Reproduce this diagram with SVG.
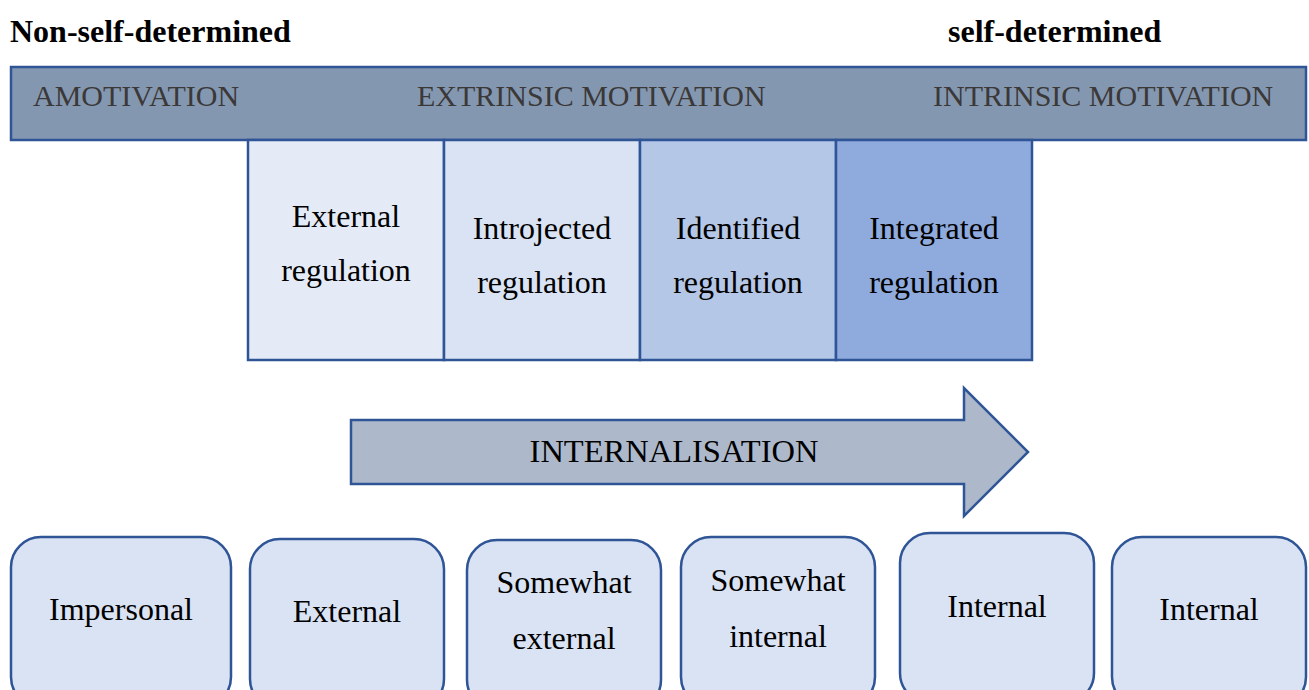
<svg xmlns="http://www.w3.org/2000/svg" width="1309" height="690" viewBox="0 0 1309 690">
<style>
.t{font-family:"Liberation Serif","Times New Roman",serif;fill:#000;text-anchor:middle}
.h{font-family:"Liberation Serif","Times New Roman",serif;font-weight:bold;font-size:32px;fill:#000}
.bar{font-family:"Liberation Serif","Times New Roman",serif;font-size:30px;fill:#3B3838}
.s{stroke:#2F5597;stroke-width:2.5}
.reg{font-size:32px}
.b{font-size:32px}
</style>
<rect width="1309" height="690" fill="#fff"/>
<g id="headers">
<text class="h" x="10" y="42">Non-self-determined</text>
<text class="h" x="948" y="42">self-determined</text>
</g>
<g id="top-bar">
<rect class="s" x="11" y="67" width="1295" height="73" fill="#8497B0"/>
<text class="bar" x="33" y="106">AMOTIVATION</text>
<text class="bar" x="417" y="106">EXTRINSIC MOTIVATION</text>
<text class="bar" x="933" y="106">INTRINSIC MOTIVATION</text>
</g>
<g id="external-regulation">
<rect class="s" x="248" y="140" width="196" height="220" fill="#E4EBF7"/>
<text class="t reg" x="346" y="227">External</text>
<text class="t reg" x="346" y="281">regulation</text>
</g>
<g id="introjected-regulation">
<rect class="s" x="444" y="140" width="196" height="220" fill="#DAE3F3"/>
<text class="t reg" x="542" y="239">Introjected</text>
<text class="t reg" x="542" y="293">regulation</text>
</g>
<g id="identified-regulation">
<rect class="s" x="640" y="140" width="196" height="220" fill="#B4C7E7"/>
<text class="t reg" x="738" y="239">Identified</text>
<text class="t reg" x="738" y="293">regulation</text>
</g>
<g id="integrated-regulation">
<rect class="s" x="836" y="140" width="196" height="220" fill="#8FAADC"/>
<text class="t reg" x="934" y="239">Integrated</text>
<text class="t reg" x="934" y="293">regulation</text>
</g>
<g id="internalisation-arrow">
<path class="s" d="M351,420 H964 V388 L1028,452 L964,516 V484 H351 Z" fill="#ADB9CA"/>
<text class="t b" x="674" y="462" style="font-size:32.5px">INTERNALISATION</text>
</g>
<g id="impersonal">
<rect class="s" x="11" y="537" width="220" height="170" rx="30" fill="#DAE3F3"/>
<text class="t b" x="121" y="620">Impersonal</text>
</g>
<g id="external">
<rect class="s" x="250" y="539" width="194" height="170" rx="30" fill="#DAE3F3"/>
<text class="t b" x="347" y="622">External</text>
</g>
<g id="somewhat-external">
<rect class="s" x="467" y="540" width="194" height="170" rx="30" fill="#DAE3F3"/>
<text class="t b" x="564" y="593">Somewhat</text>
<text class="t b" x="564" y="649">external</text>
</g>
<g id="somewhat-internal">
<rect class="s" x="681" y="537" width="194" height="170" rx="30" fill="#DAE3F3"/>
<text class="t b" x="778" y="591">Somewhat</text>
<text class="t b" x="778" y="647">internal</text>
</g>
<g id="internal-1">
<rect class="s" x="900" y="533" width="194" height="170" rx="30" fill="#DAE3F3"/>
<text class="t b" x="997" y="617">Internal</text>
</g>
<g id="internal-2">
<rect class="s" x="1112" y="537" width="194" height="170" rx="30" fill="#DAE3F3"/>
<text class="t b" x="1209" y="620">Internal</text>
</g>
<g id="connectors"></g>
</svg>
